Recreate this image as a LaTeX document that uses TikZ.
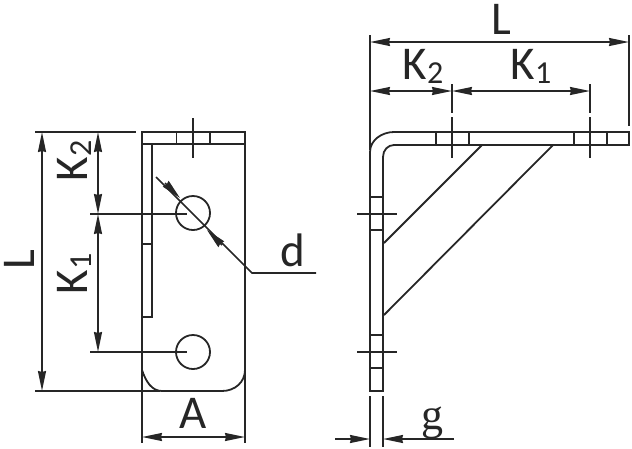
\documentclass[tikz,border=0pt]{standalone}
\usepackage{fontspec}
\setmainfont{Carlito}
\newfontfamily\gfont{Liberation Serif}
\usetikzlibrary{arrows.meta}
\newcommand{\ksub}[1]{K\raisebox{-4pt}{\fontsize{32}{32}\selectfont #1}}
\tikzset{
  part/.style={line width=1.8pt,color=black!85},
  thin part/.style={line width=1.6pt,color=black!85},
  dimline/.style={thin part,{Stealth[length=20pt,width=8pt,inset=1pt]}-{Stealth[length=20pt,width=8pt,inset=1pt]}},
  dimtip/.style={thin part,-{Stealth[length=20pt,width=8pt,inset=1pt]}},
  label/.style={inner sep=0pt,color=black!85,font=\fontsize{47}{47}\selectfont}
}
\begin{document}
\begin{tikzpicture}[x=1pt,y=-1pt]
  \useasboundingbox (0,0) rectangle (632,448);

  % front view
  \draw[part] (142,370) .. controls (146,382) and (152,391) .. (162,391) -- (222,391) .. controls (235,391) and (245,382) .. (245,370) -- (245,132) -- (142,132) -- cycle;
  \draw[part] (142,370) -- (142,443);
  \draw[part] (245,370) -- (245,443);
  \draw[part] (142,144) -- (245,144);
  \draw[part] (152,144) -- (152,317) -- (142,317);
  \draw[part] (142,244) -- (152,244);
  \foreach \x in {176.5,210} \draw[part] (\x,132) -- (\x,144);
  \draw[thin part] (193,118) -- (193,158);
  \foreach \y in {213,352} \draw[part] (193,\y) circle (17pt);

  % dimensions of the front view
  \draw[thin part] (35,132) -- (136,132);
  \draw[thin part] (35,391) -- (160,391);
  \foreach \y in {214,352} \draw[thin part] (90,\y) -- (187,\y);
  \draw[dimline] (42,132) -- (42,391);
  \draw[dimline] (98,132) -- (98,214);
  \draw[dimline] (98,214) -- (98,352);
  \draw[dimline] (142,437) -- (245,437);
  \draw[thin part] (156,177) -- (252,273) -- (316,273);
  \draw[dimtip] (165,183) -- (180,198);
  \draw[dimtip] (222,245) -- (207,230);

  \node[label,rotate=90] (frontL) at (19,260) {L};
  \node[label,rotate=90] (frontKtwo) at (74,161) {\ksub{2}};
  \node[label,rotate=90] (frontKone) at (74,274) {\ksub{1}};
  \node[label] (diam) at (293,250) {d};
  \node[label] (width) at (193,413) {A};

  % side view
  \draw[part] (370,391) -- (370,152) .. controls (370,140) and (382,132) .. (394,132) -- (629,132) -- (629,145) -- (394,145) .. controls (388,145) and (383,150) .. (383,157) -- (383,391) -- cycle;
  \draw[part] (482,145) -- (384,243);
  \draw[part] (553,145) -- (384,315);
  \foreach \x in {436,469,574,607} \draw[part] (\x,132) -- (\x,145);
  \foreach \y in {197,230,335,368} \draw[part] (370,\y) -- (383,\y);
  \foreach \y in {214,352} \draw[thin part] (357,\y) -- (397,\y);
  \foreach \x in {452,590} {
    \draw[thin part] (\x,84) -- (\x,113);
    \draw[thin part] (\x,117) -- (\x,158);
  }

  % dimensions of the side view
  \draw[thin part] (370,35) -- (370,150);
  \draw[thin part] (629,35) -- (629,126);
  \draw[dimline] (370,42) -- (629,42);
  \draw[dimline] (370,91) -- (452,91);
  \draw[dimline] (452,91) -- (590,91);
  \foreach \x in {370,383} \draw[thin part] (\x,396) -- (\x,447);
  \draw[dimtip] (335,439) -- (370,439);
  \draw[dimtip] (454,439) -- (383,439);

  \node[label] (sideL) at (501,19) {L};
  \node[label] (sideKtwo) at (423,66) {\ksub{2}};
  \node[label] (sideKone) at (531,66) {\ksub{1}};
  \node[label,font=\gfont\fontsize{44}{44}\selectfont] (gap) at (432,423) {g};
\end{tikzpicture}
\end{document}
